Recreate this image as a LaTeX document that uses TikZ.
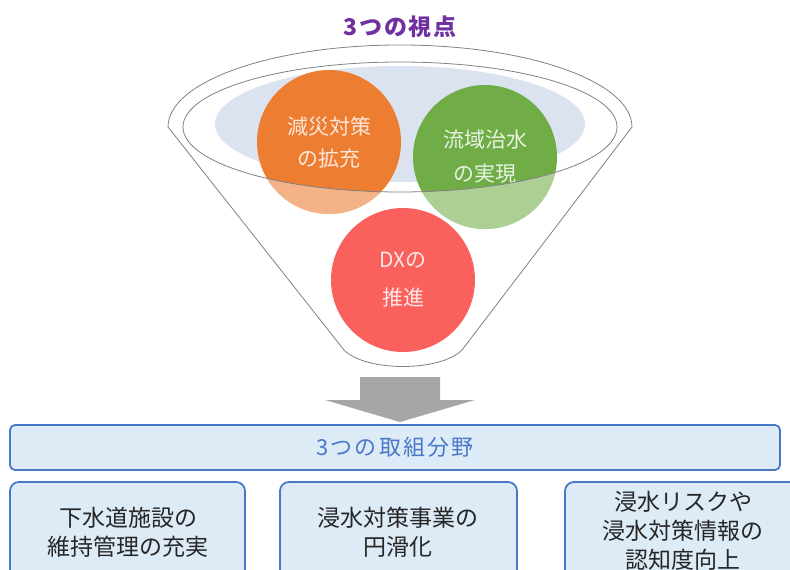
\documentclass[tikz,border=0pt]{standalone}
\usepackage{fontspec}
\setmainfont{Noto Sans CJK JP}
\definecolor{orc}{HTML}{ED7D31}
\definecolor{grc}{HTML}{70AD47}
\definecolor{rdc}{HTML}{FA605C}
\definecolor{ellc}{HTML}{DAE3EF}
\definecolor{linec}{HTML}{808080}
\definecolor{boxblue}{HTML}{4A78C8}
\definecolor{boxfill}{HTML}{DDEBF7}
\definecolor{arrowgray}{HTML}{A6A6A6}
\definecolor{titlec}{HTML}{7030A0}
\definecolor{txtc}{HTML}{262626}
\begin{document}
\begin{tikzpicture}[x=1pt,y=-1pt,
  circ/.style={circle, minimum size=144pt, inner sep=0pt, align=center},
  box/.style={draw=boxblue, line width=1.8pt, fill=boxfill, rounded corners=9pt, inner sep=0pt},
  boxtext/.style={align=center, text=txtc, font=\fontsize{23}{29}\selectfont},
  funnel/.style={draw=linec, line width=0.8pt}]
\useasboundingbox (0,0) rectangle (790,570);
\clip (0,0) rectangle (790,570);
% title
\node[text=titlec, font=\fontsize{23}{26}\selectfont\bfseries\addfontfeatures{LetterSpace=8}] (title) at (400,27) {3つの視点};
% funnel body
\draw[funnel] (168,127) arc[start angle=180, end angle=360, x radius=232, y radius=82]
  -- (462,350) .. controls (440,372) and (366,372) .. (344,350) -- cycle;
% light ellipse
\fill[ellc] (400,124) ellipse[x radius=185, y radius=58];
% circles
\node[circ, fill=orc, text=white!82!orc, font=\fontsize{21}{32}\selectfont] (o) at (329,142) {減災対策\\の拡充};
\node[circ, fill=grc, text=white!85!grc, font=\fontsize{21}{34}\selectfont] (g) at (485,157) {流域治水\\の実現};
\begin{scope}[even odd rule]
  \clip (-10,-10) rectangle (800,580) (400,127) ellipse[x radius=217, y radius=65];
  \fill[white, opacity=0.42] (o.center) circle[radius=72pt] (g.center) circle[radius=72pt];
\end{scope}
\draw[funnel] (400,127) ellipse[x radius=217, y radius=65];
\node[circ, fill=rdc, text=white!85!rdc, font=\fontsize{21}{38}\selectfont] (dx) at (403,280) {DXの\\推進};
% arrow
\fill[arrowgray] (360,377) -- (440,377) -- (440,400) -- (475,400) -- (400,422) -- (325,400) -- (360,400) -- cycle;
% bar
\node[box, rounded corners=5pt, minimum width=770pt, minimum height=45pt, text=boxblue,
  font=\fontsize{22}{26}\selectfont\addfontfeatures{LetterSpace=10}] (bar) at (395,447.5) {3つの取組分野};
% boxes
\node[box, minimum width=235pt, minimum height=100pt] (b1) at (127.5,532) {};
\node[box, minimum width=237pt, minimum height=100pt] (b2) at (398.5,532) {};
\node[box, minimum width=245pt, minimum height=100pt] (b3) at (687.5,532) {};
\node[boxtext] (t1) at (128,532) {下水道施設の\\維持管理の充実};
\node[boxtext] (t2) at (398,532) {浸水対策事業の\\円滑化};
\node[boxtext] (t3) at (683,531) {浸水リスクや\\浸水対策情報の\\認知度向上};
\end{tikzpicture}
\end{document}
